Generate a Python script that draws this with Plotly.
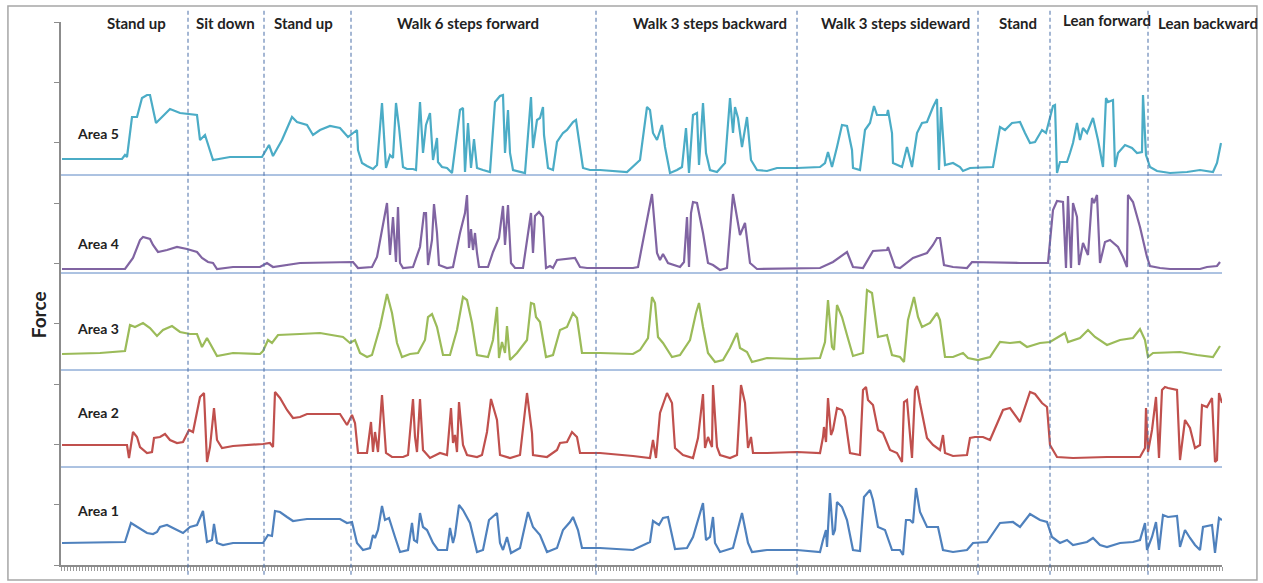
import plotly.graph_objects as go

# Digitised force readings (time in samples, force in arbitrary units above each area's baseline)
area5 = [(2,16),(62,16),(65,20),(67,18),(72,58),(77,58),(82,77),(87,80),(90,80),(96,52),(110,66),(120,62),(137,60),(140,35),(145,40),(153,15),(170,18),(202,18),(209,30),(213,19),(222,35),(232,58),(237,53),(247,50),(253,40),(260,45),(270,49),(280,47),(288,38),(293,42),(297,45),(298,25),(302,12),(307,9),(313,6),(317,10),(322,72),(326,7),(330,20),(333,17),(336,72),(339,48),(343,8),(347,6),(353,6),(356,5),(360,73),(363,22),(366,50),(370,62),(373,15),(377,37),(378,13),(382,8),(387,7),(392,2),(395,28),(400,65),(403,67),(405,3),(408,52),(411,7),(414,36),(417,7),(423,5),(430,3),(435,73),(440,79),(443,80),(445,22),(448,65),(450,22),(453,5),(460,3),(465,2),(471,78),(473,27),(477,55),(480,57),(483,68),(484,40),(488,7),(493,5),(497,33),(503,42),(507,45),(513,53),(516,55),(523,7),(530,5),(540,5),(567,3),(580,15),(587,68),(590,65),(593,42),(597,35),(602,50),(605,28),(610,2),(617,5),(622,8),(626,47),(629,2),(633,60),(637,62),(639,10),(643,72),(646,22),(650,5),(657,3),(665,12),(670,77),(673,42),(675,68),(678,57),(682,28),(687,58),(691,15),(697,5),(707,4),(717,7),(737,7),(760,8),(765,12),(768,23),(772,8),(777,28),(782,50),(787,49),(792,25),(793,7),(800,5),(805,45),(810,52),(814,69),(817,60),(827,60),(828,65),(832,42),(833,12),(842,8),(847,28),(852,8),(857,42),(862,52),(867,53),(873,68),(877,76),(879,5),(881,68),(885,10),(893,12),(900,8),(903,4),(910,7),(933,8),(940,48),(945,45),(952,52),(960,53),(965,42),(970,32),(975,33),(982,45),(986,42),(989,55),(993,69),(995,70),(997,2),(1000,13),(1007,13),(1010,22),(1013,32),(1017,52),(1020,35),(1023,47),(1027,42),(1033,57),(1038,35),(1043,8),(1046,77),(1048,73),(1053,75),(1055,8),(1058,22),(1065,30),(1072,27),(1077,22),(1082,23),(1083,80),(1086,20),(1090,8),(1097,4),(1110,2),(1127,3),(1140,5),(1153,3),(1157,12),(1161,32)]

area4 = [(2,4),(65,4),(73,15),(80,33),(83,36),(90,34),(93,28),(98,21),(107,23),(117,26),(127,24),(137,21),(142,15),(148,11),(153,10),(157,4),(173,6),(200,6),(207,10),(213,6),(240,10),(273,11),(293,11),(298,5),(312,6),(317,16),(323,50),(327,70),(330,18),(333,56),(336,11),(338,66),(340,10),(343,5),(353,6),(360,26),(364,60),(366,60),(368,8),(372,33),(374,69),(377,40),(379,8),(387,5),(393,6),(400,40),(405,60),(407,78),(409,25),(411,44),(413,23),(415,40),(417,20),(419,6),(428,6),(433,21),(439,35),(443,67),(445,28),(448,68),(451,10),(455,5),(463,5),(471,60),(473,20),(475,57),(479,61),(483,56),(486,5),(490,7),(493,5),(497,13),(515,15),(520,6),(527,5),(573,5),(578,6),(586,46),(592,79),(597,20),(600,13),(603,19),(608,10),(620,6),(624,11),(627,56),(629,6),(631,60),(633,71),(637,70),(643,40),(648,10),(653,8),(660,3),(667,5),(673,79),(680,38),(685,50),(690,10),(697,4),(737,5),(760,5),(773,11),(787,21),(793,6),(803,5),(813,22),(827,23),(828,26),(835,6),(840,5),(853,15),(867,20),(873,28),(877,35),(880,35),(884,8),(893,6),(907,5),(912,11),(960,10),(988,10),(993,63),(997,72),(1003,71),(1006,5),(1008,77),(1011,5),(1013,70),(1017,56),(1019,8),(1023,30),(1028,18),(1032,75),(1034,70),(1037,78),(1040,10),(1045,31),(1050,33),(1058,26),(1063,16),(1067,6),(1068,78),(1073,71),(1080,46),(1087,16),(1090,7),(1100,5),(1110,4),(1140,4),(1147,6),(1157,7),(1160,11)]

area3 = [(2,16),(40,17),(65,19),(70,45),(75,43),(83,47),(90,42),(97,34),(103,40),(112,44),(120,38),(130,36),(137,36),(142,23),(147,32),(150,27),(157,14),(173,17),(200,16),(203,19),(208,30),(212,27),(218,35),(240,36),(260,37),(283,33),(290,27),(295,30),(300,17),(307,13),(312,15),(320,43),(327,76),(332,57),(337,27),(342,13),(350,16),(358,17),(365,30),(368,53),(372,56),(377,43),(383,15),(390,15),(397,40),(403,73),(407,70),(412,47),(417,15),(428,13),(433,30),(437,63),(439,12),(442,28),(445,17),(447,44),(450,10),(457,17),(467,30),(471,67),(474,66),(476,53),(480,48),(486,13),(493,15),(500,40),(507,43),(513,57),(517,52),(522,17),(540,17),(573,16),(580,20),(588,32),(592,73),(595,67),(598,33),(603,27),(612,13),(620,15),(630,30),(636,57),(639,67),(643,43),(648,17),(655,8),(663,10),(670,22),(677,37),(680,22),(687,18),(692,8),(700,10),(707,12),(737,11),(760,12),(765,28),(768,70),(772,23),(774,20),(777,65),(782,53),(787,35),(793,14),(803,17),(807,80),(812,77),(815,57),(818,33),(827,35),(832,15),(840,13),(844,8),(848,50),(854,73),(858,53),(862,43),(870,47),(877,57),(880,50),(885,13),(893,13),(903,17),(908,12),(918,10),(930,13),(940,28),(950,27),(960,28),(967,23),(980,27),(990,28),(997,32),(1005,37),(1008,28),(1020,32),(1028,40),(1035,33),(1047,25),(1060,30),(1073,32),(1080,41),(1085,30),(1088,13),(1093,17),(1120,18),(1137,15),(1153,13),(1160,24)]

area2 = [(2,22),(67,22),(69,9),(73,35),(77,30),(80,20),(87,14),(92,15),(94,29),(100,30),(105,33),(110,27),(117,24),(123,25),(129,37),(133,35),(140,70),(144,74),(147,5),(150,20),(154,59),(157,27),(162,19),(173,21),(203,23),(210,24),(213,20),(215,75),(220,69),(227,57),(233,49),(240,50),(247,53),(280,53),(287,42),(292,52),(295,44),(298,14),(307,14),(311,45),(313,15),(315,35),(318,15),(322,72),(326,14),(332,10),(343,10),(348,12),(353,68),(355,30),(357,15),(360,68),(363,17),(370,9),(380,14),(387,12),(391,59),(393,24),(395,32),(397,15),(399,65),(403,22),(407,12),(417,10),(422,12),(427,35),(431,68),(437,47),(440,12),(450,9),(460,12),(464,47),(467,74),(472,34),(473,12),(487,10),(497,17),(500,24),(507,25),(512,35),(517,30),(520,14),(540,14),(573,11),(590,9),(593,27),(596,9),(600,54),(607,74),(612,64),(615,19),(623,12),(633,9),(638,29),(643,73),(645,19),(648,30),(652,20),(653,82),(657,20),(660,12),(670,9),(677,12),(681,82),(685,64),(688,19),(691,30),(693,14),(707,14),(737,15),(760,14),(763,30),(764,40),(766,25),(768,69),(771,32),(773,37),(777,59),(782,57),(785,50),(790,14),(800,12),(803,77),(806,80),(808,67),(813,62),(818,37),(823,34),(830,17),(837,14),(842,5),(844,65),(847,67),(852,9),(855,77),(857,81),(860,64),(867,29),(873,22),(880,17),(883,32),(885,14),(893,11),(907,12),(910,29),(915,30),(923,30),(930,27),(937,44),(943,57),(950,59),(960,45),(970,75),(975,73),(982,64),(987,60),(990,22),(997,10),(1013,9),(1047,10),(1080,10),(1085,19),(1086,59),(1088,15),(1092,37),(1096,70),(1099,9),(1102,77),(1105,80),(1108,79),(1117,77),(1120,7),(1125,47),(1130,39),(1135,19),(1140,22),(1142,62),(1147,60),(1152,69),(1155,5),(1157,7),(1159,74),(1162,64)]

area1 = [(2,22),(65,23),(71,42),(77,38),(87,32),(93,31),(97,33),(100,38),(107,40),(115,36),(123,32),(130,38),(137,40),(143,54),(147,23),(152,25),(154,41),(157,22),(163,20),(173,22),(203,22),(208,30),(212,29),(215,54),(220,53),(227,48),(233,44),(240,45),(247,46),(280,46),(287,42),(292,43),(297,22),(303,15),(310,17),(313,30),(315,27),(318,35),(322,59),(325,45),(329,47),(335,28),(340,13),(348,15),(352,42),(354,25),(357,23),(360,52),(363,38),(367,35),(373,22),(378,15),(387,15),(390,37),(393,22),(395,30),(399,60),(403,55),(410,42),(417,13),(423,15),(429,45),(437,52),(440,22),(443,15),(447,28),(451,12),(460,17),(468,53),(473,38),(480,30),(487,13),(497,17),(503,35),(510,43),(513,48),(518,35),(522,17),(540,17),(573,15),(590,23),(593,44),(599,40),(603,47),(608,48),(615,16),(627,17),(633,28),(638,45),(643,62),(646,25),(650,28),(653,48),(655,22),(660,13),(673,17),(682,52),(688,22),(692,13),(707,15),(737,15),(760,13),(763,25),(766,35),(767,18),(770,72),(773,30),(775,35),(777,63),(782,58),(787,45),(793,15),(800,14),(804,68),(810,75),(813,65),(818,38),(825,35),(832,15),(840,15),(843,10),(846,45),(850,45),(853,42),(856,77),(860,53),(867,38),(873,38),(878,38),(883,15),(893,13),(907,15),(913,22),(927,23),(940,42),(953,43),(960,38),(970,51),(980,45),(987,43),(992,28),(1000,22),(1007,25),(1013,20),(1027,23),(1033,27),(1040,20),(1047,18),(1060,22),(1073,23),(1080,25),(1085,42),(1087,15),(1092,28),(1096,43),(1099,15),(1103,50),(1108,48),(1117,49),(1120,18),(1125,35),(1130,27),(1135,20),(1140,15),(1143,38),(1152,40),(1155,12),(1159,47),(1162,45)]

area_names = ["Area 1", "Area 2", "Area 3", "Area 4", "Area 5"]
phase_names = ["Stand up", "Sit down", "Stand up", "Walk 6 steps forward",
               "Walk 3 steps backward", "Walk 3 steps sideward", "Stand",
               "Lean forward", "Lean backward"]
phase_bounds = [128, 204, 291, 536, 737, 918, 990, 1088]

# ---- styling / layout ----
colors = ["#4f81bd", "#c0504d", "#9bbb59", "#8064a2", "#4bacc6"]
band_offsets = [0, 98, 195, 292, 390]
label_y = [55, 153, 237, 322, 432]
phase_label_x = [76, 165, 243, 408, 650, 835, 958, 1047, 1148]
T_MIN, T_MAX = 1, 1162
Y_MAX = 543

fig = go.Figure()
for readings, off, col in zip([area1, area2, area3, area4, area5], band_offsets, colors):
    fig.add_trace(go.Scatter(
        x=[p[0] for p in readings],
        y=[p[1] + off for p in readings],
        mode="lines", line=dict(color=col, width=2.2),
        showlegend=False, hoverinfo="skip"))

shapes = []
for off in band_offsets[1:]:
    shapes.append(dict(type="line", xref="x", yref="y", x0=T_MIN, x1=T_MAX, y0=off, y1=off,
                       line=dict(color="#5b86c4", width=1)))
for b in phase_bounds:
    shapes.append(dict(type="line", xref="x", yref="paper", x0=b, x1=b, y0=-0.018, y1=1.026,
                       line=dict(color="#4a6fa8", width=1, dash="4px,3px")))
shapes.append(dict(type="rect", xref="paper", yref="paper", x0=-0.0457, x1=1.0301,
                   y0=-0.0276, y1=1.0295, line=dict(color="#a6a6a6", width=1.5)))

annotations = []
for name, x in zip(phase_names, phase_label_x):
    annotations.append(dict(text="<b>%s</b>" % name, x=x, xref="x", y=1.004 if name == "Lean forward" else 0.998,
                            yref="paper", showarrow=False, xanchor="center", yanchor="middle",
                            font=dict(family="Lato", size=15, color="#222222")))
for name, y in zip(area_names, label_y):
    annotations.append(dict(text="<b>%s</b>" % name, x=38, xref="x", y=y, yref="y",
                            showarrow=False, xanchor="center",
                            font=dict(family="Lato", size=14, color="#222222")))
annotations.append(dict(text="<b>Force</b>", x=-0.0198, xref="paper", y=0.46, yref="paper",
                        textangle=-90, showarrow=False, xanchor="center", yanchor="middle",
                        font=dict(family="Lato", size=19, color="#222222")))

fig.update_layout(
    width=1263, height=583,
    margin=dict(l=61, r=41, t=22, b=18),
    paper_bgcolor="white", plot_bgcolor="white",
    shapes=shapes, annotations=annotations,
    xaxis=dict(range=[T_MIN, T_MAX], showgrid=False, zeroline=False, showline=True,
               linecolor="#8c8c8c", linewidth=1.5, ticks="outside", ticklen=4, tickwidth=1,
               tickcolor="#9a9a9a", tick0=T_MIN, dtick=3, showticklabels=False),
    yaxis=dict(range=[0, Y_MAX], showgrid=False, zeroline=False, showline=True,
               linecolor="#8c8c8c", linewidth=1.5, ticks="outside", ticklen=5,
               tickcolor="#8c8c8c", tick0=0, dtick=Y_MAX / 9, showticklabels=False),
)

fig.write_html("out.html", config={"displayModeBar": False},
               post_script="document.body.style.margin='0';document.body.style.overflow='hidden';")
